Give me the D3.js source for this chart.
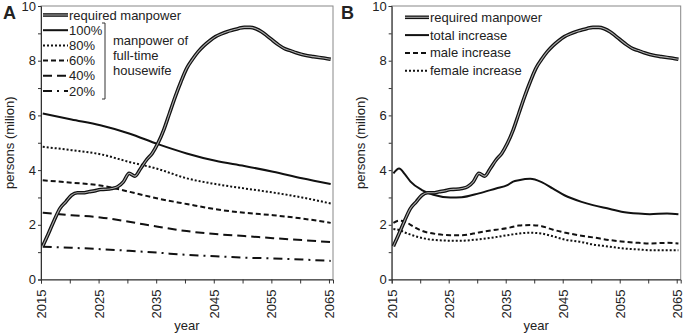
<!DOCTYPE html>
<html>
<head>
<meta charset="utf-8">
<script src="https://cdn.jsdelivr.net/npm/d3@7"></script>
<style>
  body { margin: 0; background: #fff; }
  text { font-family: "Liberation Sans", Arial, sans-serif; fill: #222; }
</style>
</head>
<body>
<svg id="chart" width="685" height="335"></svg>
<script>
// required manpower, yearly 2015-2065 (same in both panels)
const yearsAll = d3.range(2015, 2066);
const required = [1.22,1.68,2.17,2.6,2.84,3.08,3.17,3.17,3.21,3.24,
  3.29,3.30,3.33,3.39,3.57,3.88,3.78,4.06,4.37,4.61,
  4.98,5.46,6.07,6.68,7.23,7.72,8.05,8.33,8.55,8.73,
  8.88,8.98,9.06,9.12,9.18,9.22,9.22,9.17,9.06,8.9,
  8.73,8.57,8.44,8.37,8.29,8.23,8.18,8.15,8.12,8.09,8.05];

// panel A: manpower of full-time housewife
const years5 = [2015,2020,2025,2030,2035,2040,2045,2050,2055,2060,2065];
const hw100 = [6.07,5.85,5.64,5.34,4.95,4.61,4.34,4.15,3.94,3.70,3.49];
const hw80  = [4.85,4.73,4.58,4.30,4.04,3.70,3.49,3.33,3.18,3.00,2.78];
const hw60  = [3.63,3.54,3.44,3.21,2.96,2.76,2.57,2.44,2.35,2.23,2.07];
const hw40  = [2.44,2.35,2.27,2.11,1.93,1.77,1.66,1.59,1.51,1.44,1.37];
const hw20  = [1.20,1.16,1.11,1.05,0.98,0.90,0.85,0.80,0.77,0.73,0.68];

// panel B: increases
const yearsB = [2015,2016,2017,2018,2020,2022,2025,2027,2030,2033,2035,2036,2037,
  2039,2041,2043,2045,2048,2050,2053,2055,2058,2060,2063,2065];
const totalInc = [3.88,4.06,3.85,3.58,3.27,3.10,3.00,3.01,3.15,3.33,3.45,3.58,3.63,
  3.68,3.56,3.32,3.08,2.84,2.72,2.58,2.48,2.41,2.39,2.41,2.39];
const maleInc = [2.07,2.15,2.12,2.00,1.78,1.68,1.62,1.62,1.72,1.82,1.88,1.93,1.97,
  1.99,1.95,1.82,1.72,1.60,1.54,1.44,1.39,1.34,1.32,1.34,1.32];
const femaleInc = [1.85,1.81,1.72,1.64,1.52,1.45,1.42,1.42,1.47,1.55,1.62,1.65,1.68,
  1.71,1.68,1.58,1.46,1.37,1.28,1.20,1.14,1.10,1.07,1.07,1.07];

const xTicks = d3.range(2015, 2066, 5);
const yTicks = d3.range(0, 11, 1);

const svg = d3.select("#chart");
const yearShift = 0.3;

function toPoints(years, vals){
  return years.map((y, i) => ({year: y, value: vals[i]}));
}

function drawPanel(opts){
  let m = opts.margin;
  let g = svg.append("g").attr("class", "panel");
  let x = d3.scaleLinear().domain([2015, 2065.7]).range([m.left, m.right]);
  let y = d3.scaleLinear().domain([0, 10]).range([m.bottom, m.top]);

  // frame
  g.append("rect")
    .attr("x", m.left).attr("y", m.top)
    .attr("width", m.right - m.left).attr("height", m.bottom - m.top)
    .attr("fill", "none").attr("stroke", "#888").attr("stroke-width", 1);

  let axisY = g.append("g")
    .attr("transform", `translate(${m.left},0)`)
    .call(d3.axisLeft(y).tickValues(yTicks).tickSize(3).tickPadding(2)
      .tickFormat(d => d % 2 === 0 ? d : ""));
  axisY.selectAll("text").style("font-size", "13px").attr("fill", "#222");
  axisY.selectAll("line, path").attr("stroke", "#333");

  let axisX = g.append("g")
    .attr("transform", `translate(0,${m.bottom})`)
    .call(d3.axisBottom(x).tickValues(xTicks).tickSizeOuter(0).tickSize(4)
      .tickFormat(d => (d - 2015) % 10 === 0 ? d : ""));
  axisX.selectAll("text")
    .style("font-size", "13px").attr("fill", "#222")
    .attr("transform", "rotate(-90)")
    .attr("text-anchor", "end")
    .attr("x", -10).attr("y", 0).attr("dy", "0.35em");
  axisX.selectAll("line, path").attr("stroke", "#333");

  g.append("text")
    .attr("x", (m.left + m.right) / 2).attr("y", 330)
    .attr("text-anchor", "middle").style("font-size", "13px")
    .text("year");
  g.append("text")
    .attr("transform", `translate(${opts.yTitleX},${(m.top + m.bottom) / 2}) rotate(-90)`)
    .attr("text-anchor", "middle").style("font-size", "13px")
    .text("persons (milion)");
  g.append("text")
    .attr("x", opts.letterX).attr("y", 19)
    .style("font-size", "18px").style("font-weight", "bold").attr("fill", "#111")
    .text(opts.letter);

  let line = d3.line()
    .x(d => x(d.year + yearShift))
    .y(d => y(d.value))
    .curve(d3.curveMonotoneX);

  // plain series
  opts.series.forEach(s => {
    g.append("path")
      .datum(toPoints(s.years, s.values))
      .attr("fill", "none").attr("stroke", "#111")
      .attr("stroke-width", 2)
      .attr("stroke-dasharray", s.dash)
      .attr("d", line);
  });

  // required manpower double line
  let req = toPoints(yearsAll, required);
  g.append("path").datum(req).attr("fill", "none")
    .attr("stroke", "#111").attr("stroke-width", 3.6).attr("d", line);
  g.append("path").datum(req).attr("fill", "none")
    .attr("stroke", "#aaa").attr("stroke-width", 1.1).attr("d", line);

  // legend
  let lg = g.append("g").attr("class", "legend");
  let items = [{name: "required manpower", double: true}].concat(opts.series);
  items.forEach((s, i) => {
    let ly = opts.legend.y0 + i * opts.legend.step;
    let x0 = opts.legend.x0, x1 = opts.legend.x0 + opts.legend.len;
    if (s.double) {
      lg.append("line").attr("x1", x0).attr("x2", x1).attr("y1", ly).attr("y2", ly)
        .attr("stroke", "#111").attr("stroke-width", 3.6);
      lg.append("line").attr("x1", x0).attr("x2", x1).attr("y1", ly).attr("y2", ly)
        .attr("stroke", "#aaa").attr("stroke-width", 1.1);
    } else {
      lg.append("line").attr("x1", x0).attr("x2", x1).attr("y1", ly).attr("y2", ly)
        .attr("stroke", "#111").attr("stroke-width", 2)
        .attr("stroke-dasharray", s.dash);
    }
    lg.append("text")
      .attr("x", x1 + 1).attr("y", ly).attr("dy", "0.35em")
      .style("font-size", "13px")
      .text(s.name);
  });

  if (opts.bracket) {
    let b = opts.bracket;
    lg.append("path")
      .attr("d", `M${b.x - 3},${b.y0}H${b.x}V${b.y1}H${b.x - 3}`)
      .attr("fill", "none").attr("stroke", "#333").attr("stroke-width", 1);
    b.lines.forEach((t, i) => {
      lg.append("text")
        .attr("x", b.x + 8).attr("y", b.ty0 + i * 15).attr("dy", "0.35em")
        .style("font-size", "13px").text(t);
    });
  }
}

drawPanel({
  margin: {left: 41, right: 333, top: 6, bottom: 279.5},
  letter: "A", letterX: 3, yTitleX: 14,
  series: [
    {name: "100%", years: years5, values: hw100, dash: null},
    {name: "80%", years: years5, values: hw80, dash: "2,2"},
    {name: "60%", years: years5, values: hw60, dash: "5,3"},
    {name: "40%", years: years5, values: hw40, dash: "9,5"},
    {name: "20%", years: years5, values: hw20, dash: "9,5,2,5"}
  ],
  legend: {x0: 43, len: 25, y0: 15, step: 15.2},
  bracket: {x: 105, y0: 23, y1: 99, ty0: 40,
    lines: ["manpower of", "full-time", "housewife"]}
});

drawPanel({
  margin: {left: 391.7, right: 680.7, top: 6, bottom: 279.5},
  letter: "B", letterX: 341, yTitleX: 365,
  series: [
    {name: "total increase", years: yearsB, values: totalInc, dash: null},
    {name: "male increase", years: yearsB, values: maleInc, dash: "5,3"},
    {name: "female increase", years: yearsB, values: femaleInc, dash: "2,2"}
  ],
  legend: {x0: 405, len: 24, y0: 17.3, step: 17.8}
});
</script>
</body>
</html>
